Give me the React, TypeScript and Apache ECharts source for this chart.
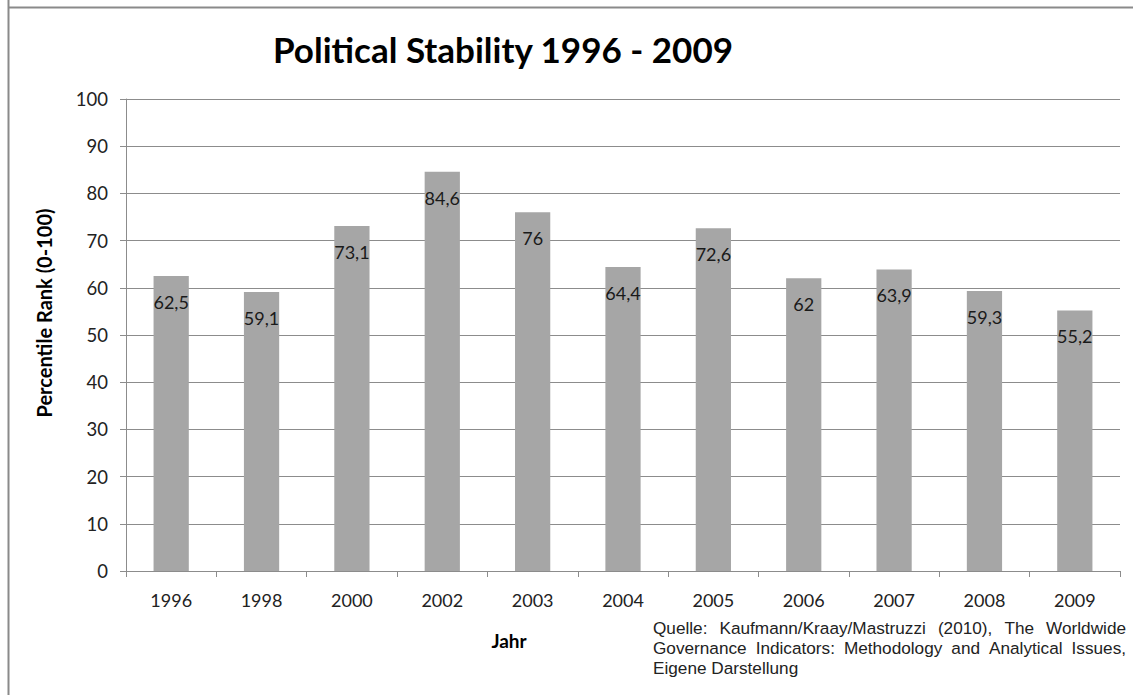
import React, { useEffect, useRef } from "react";
import * as echarts from "echarts";

const years = ["1996", "1998", "2000", "2002", "2003", "2004", "2005", "2006", "2007", "2008", "2009"];
const percentileRank = [62.5, 59.1, 73.1, 84.6, 76, 64.4, 72.6, 62, 63.9, 59.3, 55.2];
const yTicks = { min: 0, max: 100, interval: 10 };
const titleText = "Political Stability 1996 - 2009";
const yAxisTitle = "Percentile Rank (0-100)";
const xAxisTitle = "Jahr";
const sourceLines = [
  "Quelle: Kaufmann/Kraay/Mastruzzi (2010), The Worldwide",
  "Governance Indicators: Methodology and Analytical Issues,",
  "Eigene Darstellung",
];

const labelFont = "Lato, 'Open Sans', 'Noto Sans', sans-serif";
const sourceFont = "'Liberation Sans', Arial, sans-serif";
const sourceSize = 17.2;

// Lay out a block of text justified to a fixed width (last line left-aligned),
// one text element per word.
function justifiedWords(lines: string[], x0: number, y0: number, width: number, lineH: number) {
  const canvas = document.createElement("canvas");
  const ctx = canvas.getContext("2d")!;
  ctx.font = `${sourceSize}px ${sourceFont}`;
  const out: any[] = [];
  lines.forEach((line, li) => {
    const words = line.split(" ");
    const widths = words.map((w) => ctx.measureText(w).width);
    const total = widths.reduce((a, b) => a + b, 0);
    const last = li === lines.length - 1;
    const gap = last || words.length < 2 ? ctx.measureText(" ").width : (width - total) / (words.length - 1);
    let x = x0;
    words.forEach((w, wi) => {
      out.push({
        type: "text",
        x,
        y: y0 + li * lineH,
        style: {
          text: w,
          fontSize: sourceSize,
          fontFamily: sourceFont,
          fill: "#222",
          align: "left",
          verticalAlign: "middle",
        },
      });
      x += widths[wi] + gap;
    });
  });
  return out;
}

export default function App() {
  const ref = useRef<HTMLDivElement>(null);

  useEffect(() => {
    if (!ref.current) return;
    const chart = echarts.init(ref.current, null, { renderer: "svg" });
    chart.setOption({
      animation: false,
      backgroundColor: "#ffffff",
      grid: { left: 126, right: 14, top: 99, bottom: 124 },
      xAxis: {
        type: "category",
        data: years,
        axisLine: { lineStyle: { color: "#8c8c8c", width: 1 } },
        axisTick: { show: true, length: 6, alignWithLabel: false, lineStyle: { color: "#8c8c8c" } },
        axisLabel: { color: "#222", fontSize: 18, fontFamily: labelFont, margin: 20 },
      },
      yAxis: {
        type: "value",
        min: yTicks.min,
        max: yTicks.max,
        interval: yTicks.interval,
        axisLine: { show: true, lineStyle: { color: "#8c8c8c", width: 1 } },
        axisTick: { show: true, length: 6, lineStyle: { color: "#8c8c8c" } },
        splitLine: { show: true, lineStyle: { color: "#8c8c8c", width: 1 } },
        axisLabel: { color: "#222", fontSize: 18.5, fontFamily: labelFont, margin: 18 },
      },
      series: [
        {
          type: "bar",
          data: percentileRank,
          barWidth: "39%",
          itemStyle: { color: "#a6a6a6" },
          label: {
            show: true,
            position: "insideTop",
            distance: 17,
            color: "#1a1a1a",
            fontSize: 18,
            fontFamily: labelFont,
            formatter: (p: any) => String(p.value).replace(".", ","),
          },
        },
      ],
      graphic: [
        { type: "line", shape: { x1: 8.5, y1: 0, x2: 8.5, y2: 695 }, style: { stroke: "#8a8a8a", lineWidth: 2 } },
        { type: "line", shape: { x1: 8, y1: 7.5, x2: 1133, y2: 7.5 }, style: { stroke: "#8a8a8a", lineWidth: 2 } },
        {
          type: "text",
          x: 503,
          y: 49,
          style: {
            text: titleText,
            fontSize: 35,
            fontWeight: "bold",
            fontFamily: labelFont,
            fill: "#000",
            align: "center",
            verticalAlign: "middle",
          },
        },
        {
          type: "text",
          x: 44,
          y: 313,
          rotation: Math.PI / 2,
          style: {
            text: yAxisTitle,
            fontSize: 20,
            fontWeight: "bold",
            fontFamily: labelFont,
            fill: "#000",
            align: "center",
            verticalAlign: "middle",
          },
        },
        {
          type: "text",
          x: 509,
          y: 640,
          style: {
            text: xAxisTitle,
            fontSize: 19,
            fontWeight: "bold",
            fontFamily: labelFont,
            fill: "#000",
            align: "center",
            verticalAlign: "middle",
          },
        },
        ...justifiedWords(sourceLines, 653, 628, 473, 20),
      ],
    });
    return () => chart.dispose();
  }, []);

  return (
    <div
      ref={ref}
      style={{ position: "absolute", left: 0, top: 0, width: 1134, height: 695 }}
    />
  );
}
